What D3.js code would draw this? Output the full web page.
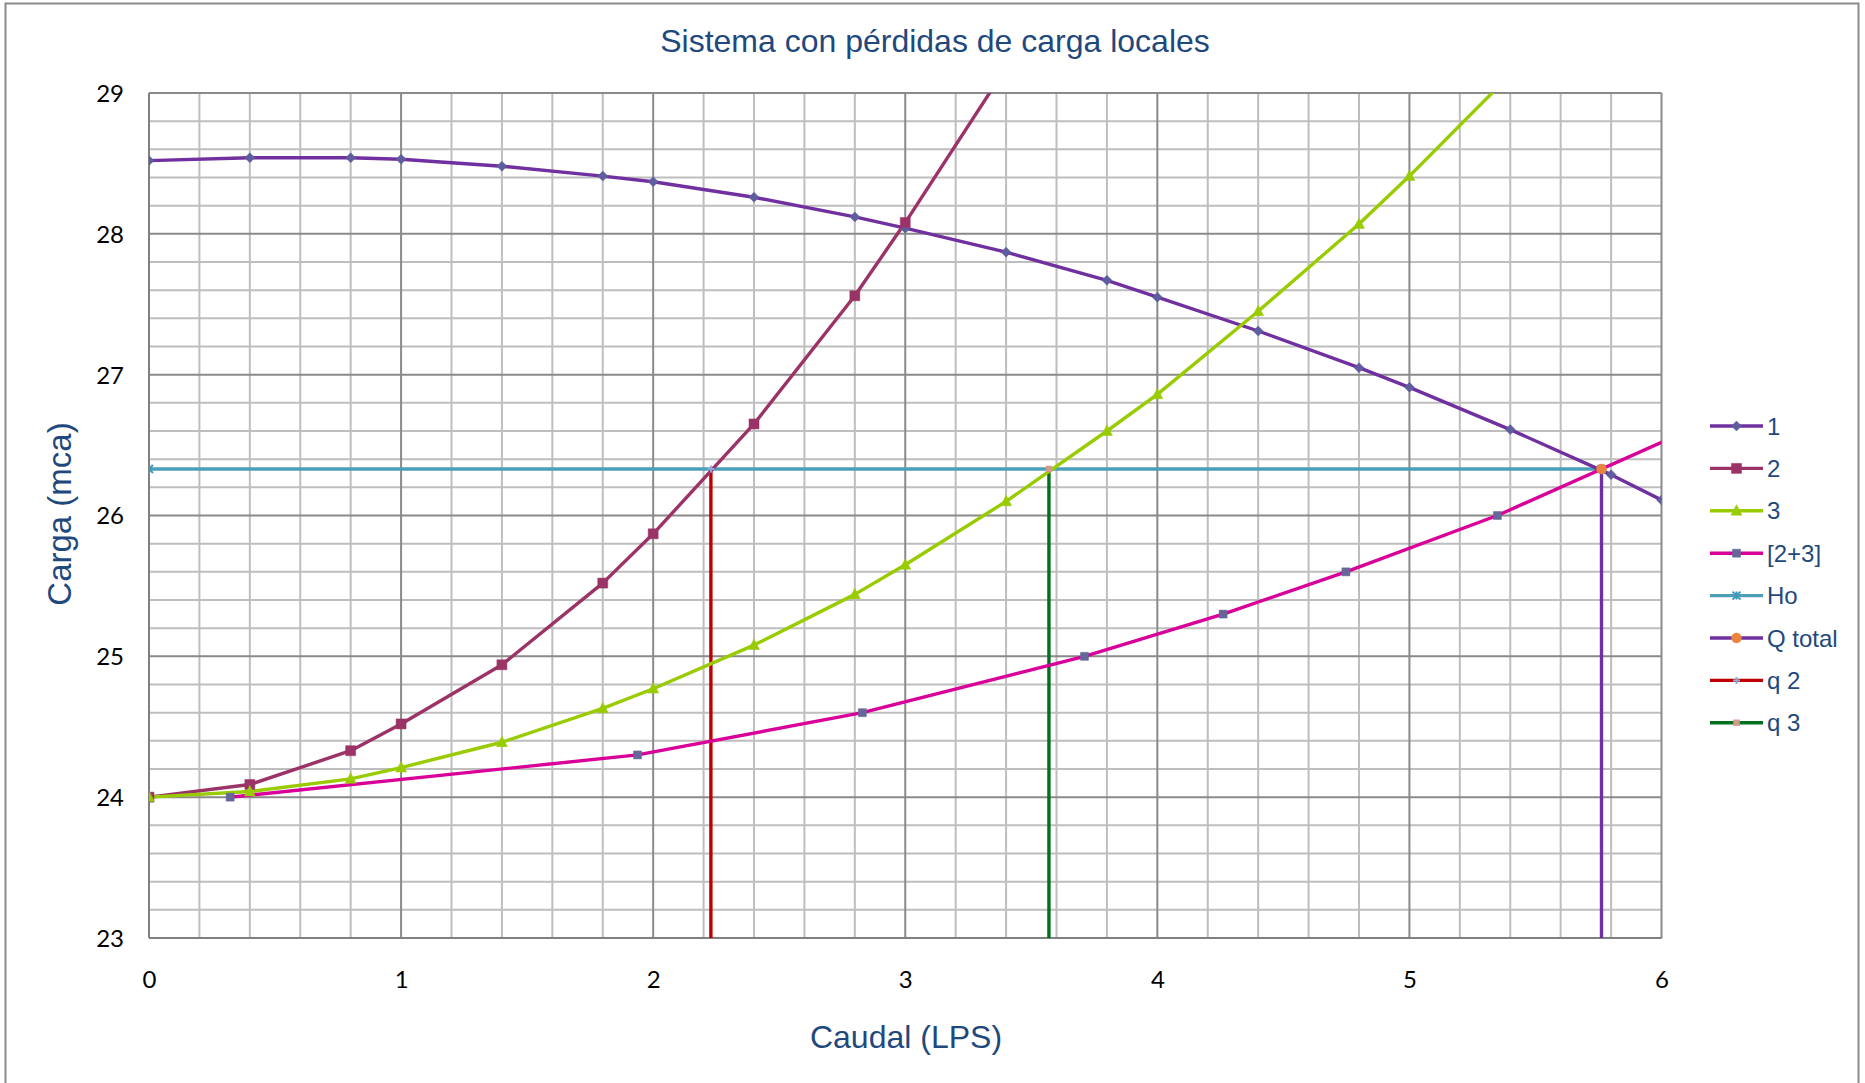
<!DOCTYPE html>
<html>
<head>
<meta charset="utf-8">
<script src="https://cdn.jsdelivr.net/npm/d3@7"></script>
<style>
  html, body { margin: 0; padding: 0; background: #fff; }
  svg { display: block; }
</style>
</head>
<body>
<svg id="chart" width="1865" height="1083"></svg>
<script>
// ---- Data ----
const title = "Sistema con pérdidas de carga locales";
const xTitle = "Caudal (LPS)";
const yTitle = "Carga (mca)";

const xTicks = [0, 1, 2, 3, 4, 5, 6];
const yTicks = [23, 24, 25, 26, 27, 28, 29];

const s1x = [0, 0.4, 0.8, 1.0, 1.4, 1.8, 2.0, 2.4, 2.8, 3.0, 3.4, 3.8, 4.0, 4.4, 4.8, 5.0, 5.4, 5.8, 6.0];
const s1y = [28.52, 28.54, 28.54, 28.53, 28.48, 28.41, 28.37, 28.26, 28.12, 28.04, 27.87, 27.67, 27.55, 27.31, 27.05, 26.91, 26.61, 26.29, 26.11];

const s2x = [0, 0.4, 0.8, 1.0, 1.4, 1.8, 2.0, 2.4, 2.8, 3.0, 3.4];
const s2y = [24.0, 24.09, 24.33, 24.52, 24.94, 25.52, 25.87, 26.65, 27.56, 28.08, 29.18];

const s3x = [0, 0.4, 0.8, 1.0, 1.4, 1.8, 2.0, 2.4, 2.8, 3.0, 3.4, 3.8, 4.0, 4.4, 4.8, 5.0, 5.4];
const s3y = [24.0, 24.04, 24.13, 24.21, 24.39, 24.63, 24.77, 25.08, 25.44, 25.65, 26.10, 26.60, 26.86, 27.45, 28.07, 28.41, 29.13];

const s23x = [0.322, 1.938, 2.83, 3.711, 4.261, 4.748, 5.349, 6.10];
const s23y = [24.0, 24.3, 24.6, 25.0, 25.3, 25.6, 26.0, 26.6];

const hoX = [0, 5.762];
const hoY = [26.33, 26.33];

const qTotX = [5.762, 5.762];
const qTotY = [26.33, 23];

const q2X = [2.229, 2.229];
const q2Y = [26.33, 23];

const q3X = [3.570, 3.570];
const q3Y = [26.33, 23];

const seriesNames = ["1", "2", "3", "[2+3]", "Ho", "Q total", "q 2", "q 3"];

// ---- Styles ----
const series = [
  { name: seriesNames[0], xs: s1x, ys: s1y, color: "#7030A0", marker: "diamond", mcolor: "#5E5E9E", msize: 5 },
  { name: seriesNames[1], xs: s2x, ys: s2y, color: "#9B3366", marker: "square", mcolor: "#9B3366", msize: 5 },
  { name: seriesNames[2], xs: s3x, ys: s3y, color: "#99CC00", marker: "triangle", mcolor: "#99CC00", msize: 5.5 },
  { name: seriesNames[3], xs: s23x, ys: s23y, color: "#D9009A", marker: "square", mcolor: "#666699", msize: 4 },
  { name: seriesNames[4], xs: hoX, ys: hoY, color: "#4BA0B8", marker: "cross", mcolor: "#3E9AB8", msize: 4 },
  { name: seriesNames[5], xs: qTotX, ys: qTotY, color: "#7030A0", marker: "circle", mcolor: "#E8843C", msize: 5 },
  { name: seriesNames[6], xs: q2X, ys: q2Y, color: "#C00000", marker: "plus", mcolor: "#8EA9D8", msize: 3.5 },
  { name: seriesNames[7], xs: q3X, ys: q3Y, color: "#00701E", marker: "square", mcolor: "#D49A8C", msize: 3 }
];

const svg = d3.select("#chart");
const L = 149, R = 1661.5, T = 93, B = 938;

const x = d3.scaleLinear().domain([0, 6]).range([L, R]);
const y = d3.scaleLinear().domain([23, 29]).range([B, T]);

// outer chart border
svg.append("rect").attr("x", 5.5).attr("y", 3.5).attr("width", 1853).attr("height", 1100)
  .attr("fill", "#fff").attr("stroke", "#8C8C8C").attr("stroke-width", 2);

// clip
svg.append("defs").append("clipPath").attr("id", "plotclip")
  .append("rect").attr("x", L).attr("y", T).attr("width", R - L).attr("height", B - T);

// Grid
const grid = svg.append("g");
const minorX = d3.range(0, 6.0001, 0.2).filter(v => Math.abs(v - Math.round(v)) > 1e-6);
const minorY = d3.range(23, 29.0001, 0.2).filter(v => Math.abs(v - Math.round(v)) > 1e-6);
grid.selectAll("line.mx").data(minorX).enter().append("line")
  .attr("x1", d => x(d)).attr("x2", d => x(d)).attr("y1", T).attr("y2", B)
  .attr("stroke", "#BEBEBE").attr("stroke-width", 2);
grid.selectAll("line.my").data(minorY).enter().append("line")
  .attr("y1", d => y(d)).attr("y2", d => y(d)).attr("x1", L).attr("x2", R)
  .attr("stroke", "#BEBEBE").attr("stroke-width", 2);
grid.selectAll("line.Mx").data(xTicks).enter().append("line")
  .attr("x1", d => x(d)).attr("x2", d => x(d)).attr("y1", T).attr("y2", B)
  .attr("stroke", "#8A8A8A").attr("stroke-width", 2);
grid.selectAll("line.My").data(yTicks).enter().append("line")
  .attr("y1", d => y(d)).attr("y2", d => y(d)).attr("x1", L).attr("x2", R)
  .attr("stroke", "#8A8A8A").attr("stroke-width", 2);

// Axes (labels via d3 axes)
const xAxis = d3.axisBottom(x).tickValues(xTicks).tickSize(0).tickPadding(0).tickFormat(d3.format("d"));
const gx = svg.append("g").attr("transform", `translate(0,${B + 33})`).call(xAxis);
gx.select(".domain").remove();
gx.selectAll("text").attr("font-family", "Lato, 'Open Sans', sans-serif").attr("font-size", 24)
  .attr("fill", "#000").attr("dy", "0.71em");

const yAxis = d3.axisLeft(y).tickValues(yTicks).tickSize(0).tickPadding(0).tickFormat(d3.format("d"));
const gy = svg.append("g").attr("transform", `translate(${L - 25},0)`).call(yAxis);
gy.select(".domain").remove();
gy.selectAll("text").attr("font-family", "Lato, 'Open Sans', sans-serif").attr("font-size", 24)
  .attr("fill", "#000").attr("dy", "0.35em");

// Axis lines (left & bottom)
svg.append("line").attr("x1", L).attr("x2", L).attr("y1", T).attr("y2", B).attr("stroke", "#808080").attr("stroke-width", 2);
svg.append("line").attr("x1", L).attr("x2", R).attr("y1", B).attr("y2", B).attr("stroke", "#808080").attr("stroke-width", 2);

// Lines
const lineGen = d3.line().x(d => x(d[0])).y(d => y(d[1]));
const plot = svg.append("g").attr("clip-path", "url(#plotclip)");

function markerPath(type, s) {
  switch (type) {
    case "diamond": return `M0,${-s}L${s},0L0,${s}L${-s},0Z`;
    case "square": return `M${-s},${-s}H${s}V${s}H${-s}Z`;
    case "triangle": return `M0,${-s * 1.1}L${s},${s * 0.8}L${-s},${s * 0.8}Z`;
    case "circle": return d3.symbol(d3.symbolCircle, Math.PI * s * s)();
    case "cross": return `M${-s},${-s}L${s},${s}M${-s},${s}L${s},${-s}M0,${-s}V${s}`;
    case "plus": return `M${-s},0H${s}M0,${-s}V${s}`;
  }
}

// draw order: Ho, q2, q3, 1, 2, 3, [2+3], Q total
const order = [4, 6, 7, 0, 1, 2, 3, 5];
order.forEach(i => {
  const s = series[i];
  const pts = s.xs.map((v, k) => [v, s.ys[k]]);
  plot.append("path").datum(pts).attr("d", lineGen)
    .attr("fill", "none").attr("stroke", s.color).attr("stroke-width", 3.4)
    .attr("stroke-linejoin", "round");
});
order.forEach(i => {
  const s = series[i];
  const pts = s.xs.map((v, k) => [v, s.ys[k]]).filter(p => p[0] >= 0 && p[0] <= 6 && p[1] >= 23 && p[1] <= 29 && !(i >= 5 && p[1] === 23));
  const isLineMarker = (s.marker === "cross" || s.marker === "plus");
  plot.selectAll(null).data(pts).enter().append("path")
    .attr("transform", d => `translate(${x(d[0])},${y(d[1])})`)
    .attr("d", markerPath(s.marker, s.msize))
    .attr("fill", isLineMarker ? "none" : s.mcolor)
    .attr("stroke", s.mcolor).attr("stroke-width", isLineMarker ? 2 : 0.5);
});

// Titles
svg.append("text").attr("x", 935).attr("y", 52).attr("text-anchor", "middle")
  .attr("font-family", "'Liberation Sans', Arial, sans-serif").attr("font-size", 32)
  .attr("fill", "#1F497D").text(title);
svg.append("text").attr("x", 906).attr("y", 1048).attr("text-anchor", "middle")
  .attr("font-family", "'Liberation Sans', Arial, sans-serif").attr("font-size", 32)
  .attr("fill", "#1F497D").text(xTitle);
svg.append("text").attr("transform", "translate(71,514) rotate(-90)").attr("text-anchor", "middle")
  .attr("font-family", "'Liberation Sans', Arial, sans-serif").attr("font-size", 33)
  .attr("fill", "#1F497D").text(yTitle);

// Legend
const leg = svg.append("g");
const legY0 = 426, legDY = 42.4, legX1 = 1710, legX2 = 1763;
series.forEach((s, i) => {
  const yy = legY0 + i * legDY;
  leg.append("line").attr("x1", legX1).attr("x2", legX2).attr("y1", yy).attr("y2", yy)
    .attr("stroke", s.color).attr("stroke-width", 3.4);
  const isLineMarker = (s.marker === "cross" || s.marker === "plus");
  leg.append("path").attr("transform", `translate(${(legX1 + legX2) / 2},${yy})`)
    .attr("d", markerPath(s.marker, s.msize))
    .attr("fill", isLineMarker ? "none" : s.mcolor)
    .attr("stroke", s.mcolor).attr("stroke-width", isLineMarker ? 2 : 0.5);
  leg.append("text").attr("x", legX2 + 4).attr("y", yy).attr("dy", "0.36em")
    .attr("font-family", "'Liberation Sans', Arial, sans-serif").attr("font-size", 24)
    .attr("fill", "#1F497D").text(s.name);
});
</script>
</body>
</html>
